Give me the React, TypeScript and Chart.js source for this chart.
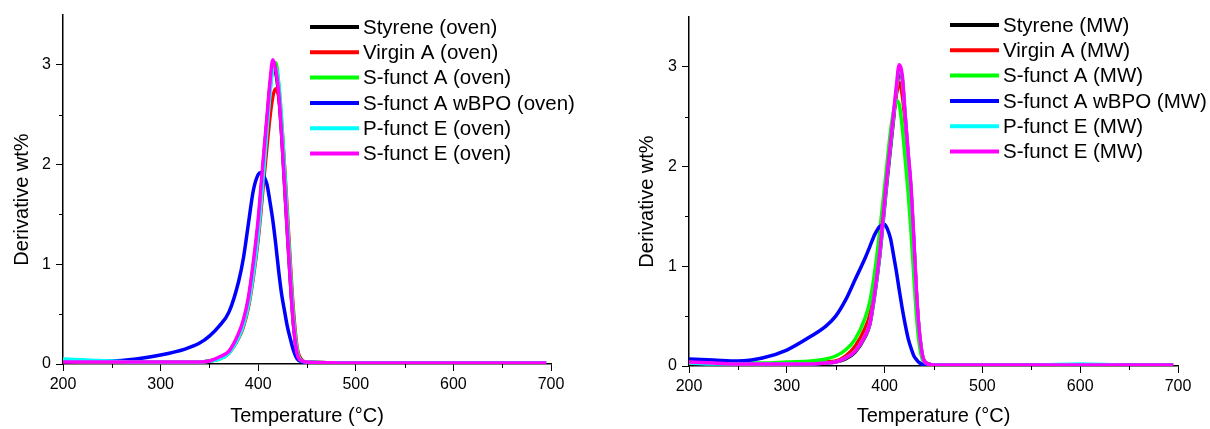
import React, { useEffect, useRef } from "react";
import { Chart, registerables } from "chart.js";
Chart.register(...registerables);

// Temperatures (°C) shared by all series
const temps = [200, 225, 250, 275, 300, 325, 340, 350, 360, 370, 380, 385, 390, 395, 400, 403, 406, 409, 412, 415, 418, 421, 424, 427, 430, 433, 436, 440, 445, 450, 500, 550, 600, 650, 695];

// Oven series (Derivative wt%)
const styreneOven = [0.03, 0.02, 0.02, 0.02, 0.02, 0.02, 0.02, 0.03, 0.06, 0.12, 0.29, 0.43, 0.64, 0.98, 1.40, 1.74, 2.10, 2.44, 2.78, 2.98, 2.92, 2.70, 2.30, 1.80, 1.30, 0.82, 0.41, 0.10, 0.03, 0.02, 0.01, 0.01, 0.01, 0.01, 0.01];
const virginAOven = [0.03, 0.02, 0.02, 0.02, 0.02, 0.02, 0.02, 0.03, 0.05, 0.11, 0.26, 0.38, 0.57, 0.87, 1.25, 1.55, 1.88, 2.18, 2.47, 2.68, 2.76, 2.68, 2.40, 1.98, 1.50, 1.00, 0.55, 0.16, 0.04, 0.02, 0.01, 0.01, 0.01, 0.01, 0.01];
const sFunctAOven = [0.03, 0.02, 0.02, 0.02, 0.02, 0.02, 0.02, 0.03, 0.05, 0.11, 0.27, 0.40, 0.60, 0.92, 1.33, 1.66, 2.02, 2.38, 2.72, 2.98, 3.02, 2.82, 2.45, 1.95, 1.42, 0.92, 0.48, 0.13, 0.03, 0.02, 0.01, 0.01, 0.01, 0.01, 0.01];
const wbpoOven = [0.04, 0.03, 0.03, 0.05, 0.09, 0.15, 0.21, 0.28, 0.38, 0.52, 0.83, 1.07, 1.41, 1.74, 1.90, 1.92, 1.88, 1.80, 1.63, 1.44, 1.20, 0.93, 0.70, 0.53, 0.37, 0.25, 0.14, 0.05, 0.02, 0.01, 0.01, 0.01, 0.01, 0.01, 0.01];
const pFunctEOven = [0.05, 0.04, 0.03, 0.02, 0.02, 0.02, 0.02, 0.03, 0.05, 0.11, 0.27, 0.40, 0.60, 0.90, 1.30, 1.62, 1.98, 2.35, 2.70, 2.95, 2.97, 2.80, 2.42, 1.92, 1.40, 0.90, 0.46, 0.12, 0.03, 0.02, 0.01, 0.01, 0.01, 0.01, 0.01];
const sFunctEOven = [0.02, 0.02, 0.02, 0.02, 0.02, 0.02, 0.02, 0.03, 0.07, 0.13, 0.31, 0.45, 0.67, 1.02, 1.45, 1.80, 2.15, 2.48, 2.82, 3.05, 2.95, 2.72, 2.30, 1.80, 1.30, 0.82, 0.41, 0.10, 0.03, 0.02, 0.01, 0.01, 0.01, 0.01, 0.01];

// MW series (Derivative wt%)
const styreneMW = [0.03, 0.02, 0.02, 0.02, 0.02, 0.02, 0.03, 0.04, 0.07, 0.14, 0.29, 0.42, 0.72, 1.10, 1.60, 1.90, 2.18, 2.46, 2.74, 2.95, 2.88, 2.50, 2.12, 1.76, 1.22, 0.65, 0.29, 0.06, 0.02, 0.01, 0.01, 0.01, 0.01, 0.01, 0.01];
const virginAMW = [0.03, 0.03, 0.02, 0.02, 0.02, 0.03, 0.04, 0.05, 0.10, 0.20, 0.38, 0.52, 0.82, 1.20, 1.68, 1.98, 2.25, 2.50, 2.72, 2.84, 2.72, 2.45, 2.10, 1.72, 1.20, 0.65, 0.28, 0.06, 0.02, 0.01, 0.01, 0.01, 0.01, 0.01, 0.01];
const sFunctAMW = [0.04, 0.03, 0.03, 0.03, 0.04, 0.05, 0.07, 0.10, 0.16, 0.27, 0.48, 0.65, 0.95, 1.35, 1.80, 2.08, 2.35, 2.55, 2.66, 2.62, 2.40, 2.08, 1.75, 1.35, 0.88, 0.45, 0.18, 0.04, 0.02, 0.01, 0.01, 0.01, 0.01, 0.01, 0.01];
const wbpoMW = [0.07, 0.06, 0.05, 0.08, 0.16, 0.30, 0.40, 0.50, 0.66, 0.87, 1.08, 1.20, 1.32, 1.40, 1.42, 1.37, 1.28, 1.12, 0.95, 0.76, 0.58, 0.42, 0.28, 0.18, 0.10, 0.06, 0.03, 0.01, 0.01, 0.01, 0.01, 0.01, 0.01, 0.01, 0.01];
const pFunctEMW = [0.03, 0.02, 0.02, 0.02, 0.02, 0.02, 0.03, 0.04, 0.08, 0.15, 0.30, 0.43, 0.74, 1.12, 1.63, 1.94, 2.22, 2.50, 2.78, 3.00, 2.90, 2.52, 2.14, 1.78, 1.24, 0.66, 0.30, 0.06, 0.02, 0.01, 0.01, 0.01, 0.02, 0.01, 0.01];
const sFunctEMW = [0.04, 0.03, 0.02, 0.02, 0.02, 0.02, 0.03, 0.04, 0.08, 0.15, 0.30, 0.43, 0.75, 1.14, 1.66, 1.96, 2.24, 2.52, 2.80, 3.02, 2.92, 2.52, 2.15, 1.80, 1.25, 0.67, 0.30, 0.06, 0.02, 0.01, 0.01, 0.01, 0.01, 0.01, 0.01];

const seriesColors = ["#000000", "#ff0000", "#00ff00", "#0000ff", "#00ffff", "#ff00ff"];
const ovenLabels = ["Styrene (oven)", "Virgin A (oven)", "S-funct A (oven)", "S-funct A wBPO (oven)", "P-funct E (oven)", "S-funct E (oven)"];
const mwLabels = ["Styrene (MW)", "Virgin A (MW)", "S-funct A (MW)", "S-funct A wBPO (MW)", "P-funct E (MW)", "S-funct E (MW)"];
const ovenSeries = [styreneOven, virginAOven, sFunctAOven, wbpoOven, pFunctEOven, sFunctEOven];
const mwSeries = [styreneMW, virginAMW, sFunctAMW, wbpoMW, pFunctEMW, sFunctEMW];

const xMajorTicks = [200, 300, 400, 500, 600, 700];
const xMinorTicks = [250, 350, 450, 550, 650];
const yMajorTicks = [0, 1, 2, 3];
const yMinorTicks = [0.5, 1.5, 2.5];
const xTitle = "Temperature (°C)";
const yTitle = "Derivative wt%";

const FONT = "'Liberation Sans', Arial, sans-serif";

const legendPlugin = {
  id: "insideLegend",
  afterDraw(chart: any, _args: any, opts: any) {
    const ctx = chart.ctx;
    const ca = chart.chartArea;
    ctx.save();
    chart.data.datasets.forEach((ds: any, i: number) => {
      const y = ca.top + opts.y + i * opts.step;
      const x0 = ca.left + opts.x;
      ctx.strokeStyle = ds.borderColor;
      ctx.lineWidth = 4;
      ctx.beginPath();
      ctx.moveTo(x0, y);
      ctx.lineTo(x0 + 49, y);
      ctx.stroke();
      ctx.fillStyle = "#000";
      ctx.font = `20.5px ${FONT}`;
      ctx.textBaseline = "middle";
      ctx.textAlign = "left";
      ctx.fillText(ds.label, x0 + 53, y + 1);
    });
    // y-axis title
    ctx.translate(opts.yTitleX, (ca.top + ca.bottom) / 2 + opts.yTitleShift);
    ctx.rotate(-Math.PI / 2);
    ctx.font = `20px ${FONT}`;
    ctx.textAlign = "center";
    ctx.textBaseline = "middle";
    ctx.fillStyle = "#000";
    ctx.fillText(opts.yTitle, 0, 0);
    ctx.restore();
  },
};

const minorTickPlugin = {
  id: "minorTicks",
  afterDraw(chart: any) {
    const ctx = chart.ctx;
    const xs = chart.scales.x;
    const ys = chart.scales.y;
    ctx.save();
    ctx.strokeStyle = "#000";
    ctx.lineWidth = 1;
    ctx.beginPath();
    xMinorTicks.forEach((v) => {
      const px = Math.round(xs.getPixelForValue(v)) + 0.5;
      ctx.moveTo(px, xs.top);
      ctx.lineTo(px, xs.top + 4);
    });
    yMinorTicks.forEach((v) => {
      const py = Math.round(ys.getPixelForValue(v)) + 0.5;
      ctx.moveTo(ys.right, py);
      ctx.lineTo(ys.right - 4, py);
    });
    ctx.stroke();
    ctx.restore();
  },
};

function makeConfig(labels: string[], series: number[][], p: any) {
  return {
    type: "line" as const,
    data: {
      datasets: series.map((vals, i) => ({
        label: labels[i],
        data: temps.map((t, k) => ({ x: t, y: vals[k] })),
        borderColor: seriesColors[i],
        backgroundColor: seriesColors[i],
        borderWidth: 3.5,
        pointRadius: 0,
        cubicInterpolationMode: "monotone" as const,
        fill: false,
        order: series.length - i,
      })),
    },
    options: {
      animation: false as const,
      responsive: false,
      maintainAspectRatio: false,
      layout: { padding: { top: p.top, right: p.right, left: 0, bottom: 0 } },
      plugins: {
        legend: { display: false },
        tooltip: { enabled: false },
        insideLegend: { x: p.legX, y: p.legY, step: 25.3, yTitle: yTitle, yTitleX: p.yTitleX, yTitleShift: 10 },
      },
      scales: {
        x: {
          type: "linear" as const,
          min: 200,
          max: 700,
          afterFit: (s: any) => { s.height = p.xH; },
          afterBuildTicks: (s: any) => { s.ticks = xMajorTicks.map((v) => ({ value: v })); },
          border: { display: true, color: "#000", width: 1.5 },
          grid: { display: true, drawOnChartArea: false, drawTicks: true, tickLength: 7, color: "#000", tickWidth: 1 },
          ticks: { color: "#000", font: { family: FONT, size: 16 }, padding: 4, maxRotation: 0, autoSkip: false },
          title: { display: true, text: xTitle, color: "#000", font: { family: FONT, size: 20 }, padding: { top: 0, bottom: 1 } },
        },
        y: {
          type: "linear" as const,
          min: 0,
          max: 3.5,
          afterFit: (s: any) => { s.width = p.yW; },
          afterBuildTicks: (s: any) => { s.ticks = yMajorTicks.map((v) => ({ value: v })); },
          border: { display: true, color: "#000", width: 1.5 },
          grid: { display: true, drawOnChartArea: false, drawTicks: true, tickLength: 7, color: "#000", tickWidth: 1 },
          ticks: { color: "#000", font: { family: FONT, size: 16 }, padding: 5, autoSkip: false },
          title: { display: false },
        },
      },
    },
    plugins: [legendPlugin, minorTickPlugin],
  };
}

function Panel(props: { labels: string[]; series: number[][]; p: any; left: number }) {
  const ref = useRef<HTMLCanvasElement | null>(null);
  useEffect(() => {
    if (!ref.current) return;
    const chart = new Chart(ref.current, makeConfig(props.labels, props.series, props.p) as any);
    return () => chart.destroy();
  }, []);
  return (
    <div style={{ position: "absolute", left: props.left, top: 0, width: 600, height: 429 }}>
      <canvas ref={ref} width={600} height={429} style={{ width: 600, height: 429, display: "block" }} />
    </div>
  );
}

export default function App() {
  return (
    <div style={{ position: "fixed", left: 0, top: 0, width: 1210, height: 429, background: "#fff", overflow: "hidden" }}>
      <Panel labels={ovenLabels} series={ovenSeries} left={0}
        p={{ top: 15, right: 49, xH: 65, yW: 63, legX: 247, legY: 12, yTitleX: 22 }} />
      <Panel labels={mwLabels} series={mwSeries} left={610}
        p={{ top: 17, right: 32, xH: 63, yW: 79, legX: 261, legY: 8, yTitleX: 37 }} />
    </div>
  );
}
